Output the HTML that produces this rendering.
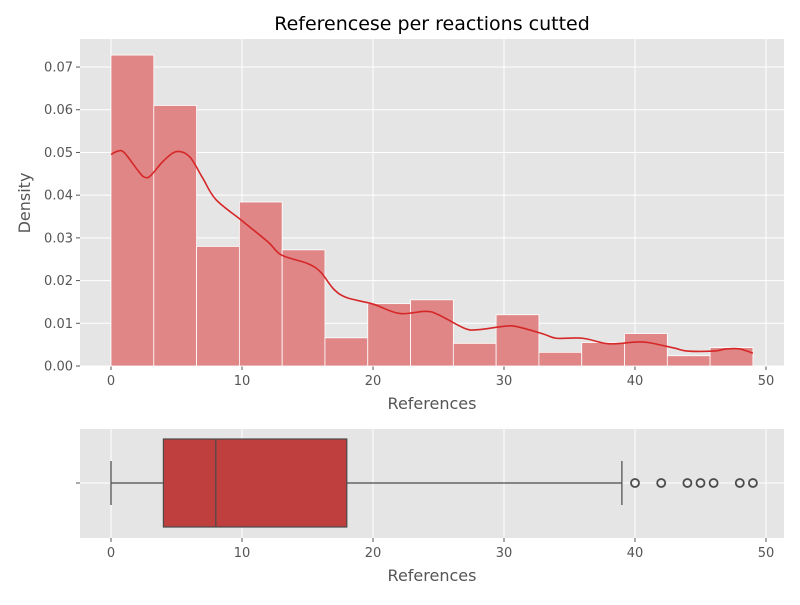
<!DOCTYPE html>
<html><head><meta charset="utf-8"><style>
body{margin:0;background:#fff;font-family:"Liberation Sans","DejaVu Sans",sans-serif}
</style></head><body>
<svg id="c" width="800" height="600" xmlns="http://www.w3.org/2000/svg" style="font-family:'DejaVu Sans','Liberation Sans',sans-serif"></svg>
<script>
const binHeights=[0.0728,0.0610,0.0280,0.0384,0.0272,0.0066,0.0146,0.0155,0.0053,0.0120,0.0032,0.0055,0.0076,0.0024,0.0043];
const kdeX=[0,0.5,1,2,2.5,3,4,5,6,7,8,10,12,13,15,16,17,18,20,22,24,25,27,28,30,31,33,34,36,38,40,41,43,44,46,47,48,49];
const kdeY=[0.0495,0.0503,0.050,0.046,0.0443,0.0445,0.048,0.0502,0.049,0.044,0.039,0.034,0.029,0.026,0.024,0.022,0.018,0.016,0.0145,0.0123,0.0128,0.012,0.0088,0.0085,0.0093,0.0092,0.0075,0.0065,0.0065,0.0052,0.0056,0.0055,0.0042,0.0035,0.0035,0.004,0.004,0.003];
const xTicks=[0,10,20,30,40,50];
const yTicks=[0,0.01,0.02,0.03,0.04,0.05,0.06,0.07];
const boxStats=[0,4,8,18,39];
const outliers=[40,42,44,45,46,48,49];
const dataMin=0,dataMax=49;
const NS="http://www.w3.org/2000/svg",svg=document.getElementById('c');
function el(t,a,p){const e=document.createElementNS(NS,t);for(const k in a)e.setAttribute(k,a[k]);(p||svg).appendChild(e);return e;}
const X=v=>111+v*13.1;
const Y=v=>366-v*4271;
let bg=el('rect',{x:80,y:39,width:704,height:327,fill:'#e5e5e5'});


xTicks.forEach(t=>{
 el('line',{x1:X(t),x2:X(t),y1:39,y2:366,stroke:'#fff','stroke-width':1});
 el('line',{x1:X(t),x2:X(t),y1:366,y2:370,stroke:'#555'});
 let tx=el('text',{x:X(t),y:385,'text-anchor':'middle','font-size':13,fill:'#555'});tx.textContent=t;
 
 
});
yTicks.forEach(t=>{
 el('line',{x1:80,x2:784,y1:Y(t),y2:Y(t),stroke:'#fff','stroke-width':1});
 el('line',{x1:76,x2:80,y1:Y(t),y2:Y(t),stroke:'#555'});
 let tx=el('text',{x:73,y:Y(t)+4.5,'text-anchor':'end','font-size':13,fill:'#555'});tx.textContent=t.toFixed(2);
 
 
});
const bw=(dataMax-dataMin)/binHeights.length;
binHeights.forEach((h,i)=>{
 let r=el('rect',{x:X(dataMin+i*bw),y:Y(h),width:X(bw)-X(0),height:Y(0)-Y(h),fill:'#e08686',stroke:'#fff','stroke-width':0.8});
 
 
});
const P=kdeX.map((x,i)=>[X(x),Y(kdeY[i])]);
let d='M'+P[0][0]+','+P[0][1];
for(let i=0;i<P.length-1;i++){
 const p0=P[Math.max(0,i-1)],p1=P[i],p2=P[i+1],p3=P[Math.min(P.length-1,i+2)];
 const c1=[p1[0]+(p2[0]-p0[0])/6,p1[1]+(p2[1]-p0[1])/6];
 const c2=[p2[0]-(p3[0]-p1[0])/6,p2[1]-(p3[1]-p1[1])/6];
 d+='C'+c1[0]+','+c1[1]+' '+c2[0]+','+c2[1]+' '+p2[0]+','+p2[1];
}
let kl=el('path',{d:d,fill:'none',stroke:'#d62728','stroke-width':1.6,'stroke-linejoin':'round'});


let ti=el('text',{x:432,y:30,'text-anchor':'middle','font-size':19,fill:'#000'});ti.textContent='Referencese per reactions cutted';


let xl=el('text',{x:432,y:409,'text-anchor':'middle','font-size':16,fill:'#555'});xl.textContent='References';


let yl=el('text',{x:30,y:203,'text-anchor':'middle','font-size':16,fill:'#555',transform:'rotate(-90 30 203)'});yl.textContent='Density';


let bg2=el('rect',{x:80,y:429,width:704,height:109,fill:'#e5e5e5'});


xTicks.forEach(t=>{
 el('line',{x1:X(t),x2:X(t),y1:429,y2:538,stroke:'#fff'});
 el('line',{x1:X(t),x2:X(t),y1:538,y2:542,stroke:'#555'});
 let tx=el('text',{x:X(t),y:557,'text-anchor':'middle','font-size':13,fill:'#555'});tx.textContent=t;
 
 
});
el('line',{x1:80,x2:784,y1:483,y2:483,stroke:'#fff'});
el('line',{x1:76,x2:80,y1:483,y2:483,stroke:'#555'});
const c=483;
el('line',{x1:X(boxStats[0]),x2:X(boxStats[1]),y1:c,y2:c,stroke:'#4a4a4a','stroke-width':1.2});
el('line',{x1:X(boxStats[3]),x2:X(boxStats[4]),y1:c,y2:c,stroke:'#4a4a4a','stroke-width':1.2});
el('line',{x1:X(boxStats[0]),x2:X(boxStats[0]),y1:461,y2:505,stroke:'#4a4a4a','stroke-width':1.2});
el('line',{x1:X(boxStats[4]),x2:X(boxStats[4]),y1:461,y2:505,stroke:'#4a4a4a','stroke-width':1.2});
let bx=el('rect',{x:X(boxStats[1]),y:439,width:X(boxStats[3])-X(boxStats[1]),height:88,fill:'#bf3e3e',stroke:'#4a4a4a','stroke-width':1.2});


el('line',{x1:X(boxStats[2]),x2:X(boxStats[2]),y1:439,y2:527,stroke:'#4a4a4a','stroke-width':1.2});
outliers.forEach(o=>{
 let ci=el('circle',{cx:X(o),cy:c,r:4,fill:'none',stroke:'#4a4a4a','stroke-width':1.8});
 
 
});
let xl2=el('text',{x:432,y:581,'text-anchor':'middle','font-size':16,fill:'#555'});xl2.textContent='References';


</script>
</body></html>
